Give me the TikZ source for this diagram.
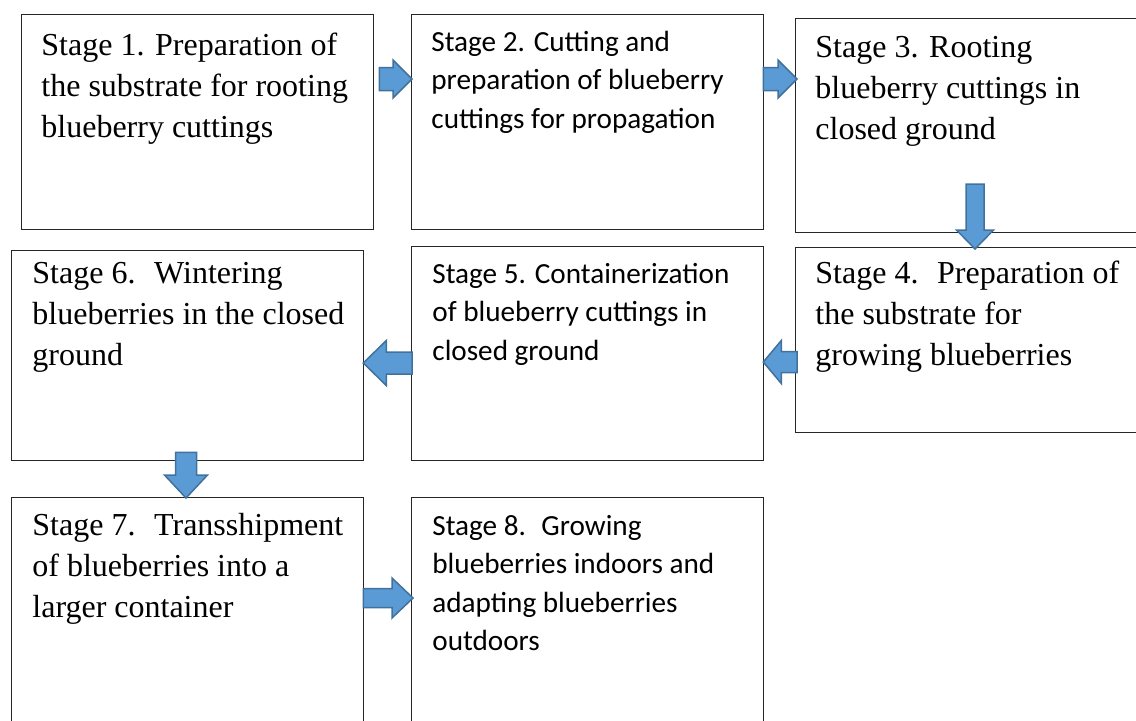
\documentclass[tikz,border=0pt]{standalone}
\usepackage{fontspec}
\setmainfont{Liberation Serif}
\newfontfamily\calibrifont{Carlito}
\usetikzlibrary{calc}

\definecolor{arrowfill}{HTML}{5B9BD5}
\definecolor{arrowline}{HTML}{41719C}

\begin{document}
\begin{tikzpicture}[x=0.5pt,y=-0.5pt,
	stagebox/.style={draw=black!85, line width=0.65pt, anchor=north west, inner sep=0pt, minimum width=176pt},
	serif/.style={anchor=base west, inner sep=0pt, align=left, font=\rmfamily\fontsize{16}{20.6}\selectfont},
	sans/.style={anchor=base west, inner sep=0pt, align=left, font=\calibrifont\fontsize{14.6}{19.25}\selectfont},
	flowarrow/.style n args={3}{draw=arrowline, fill=arrowfill, line width=0.75pt,
		to path={($(\tikztostart)!#1!90:(\tikztotarget)$)
			-- ($(\tikztotarget)!#3!(\tikztostart)!#1!90:(\tikztotarget)$)
			-- ($(\tikztotarget)!#3!(\tikztostart)!#2!90:(\tikztotarget)$)
			-- (\tikztotarget)
			-- ($(\tikztotarget)!#3!(\tikztostart)!#2!-90:(\tikztotarget)$)
			-- ($(\tikztotarget)!#3!(\tikztostart)!#1!-90:(\tikztotarget)$)
			-- ($(\tikztostart)!#1!-90:(\tikztotarget)$) -- cycle}}
	]
	\useasboundingbox (0,0) rectangle (1136,720);

	\node	(s1) at (21,14) [stagebox, minimum height=107.5pt] {};
	\node	(s2) at (411,14) [stagebox, minimum height=107.5pt] {};
	\node	(s3) at (795,18) [stagebox, minimum height=107pt] {};
	\node	(s4) at (795,247) [stagebox, minimum height=92.5pt] {};
	\node	(s5) at (411,246) [stagebox, minimum height=107pt] {};
	\node	(s6) at (11,250) [stagebox, minimum height=105pt] {};
	\node	(s7) at (11,497) [stagebox, minimum height=115pt] {};
	\node	(s8) at (411,497) [stagebox, minimum height=115pt] {};

	\node	(t1) at ([shift={(20,123.4)}]s1.north west) [serif] {Stage 1. Preparation of\\the substrate for rooting\\blueberry cuttings};
	\node	(t2) at ([shift={(20,114)}]s2.north west) [sans] {Stage 2. Cutting and\\preparation of blueberry\\cuttings for propagation};
	\node	(t3) at ([shift={(20,121.4)}]s3.north west) [serif] {Stage 3. Rooting\\blueberry cuttings in\\closed ground};
	\node	(t4) at ([shift={(20,118.4)}]s4.north west) [serif] {Stage 4.~ Preparation of\\the substrate for\\growing blueberries};
	\node	(t5) at ([shift={(21,114)}]s5.north west) [sans] {Stage 5. Containerization\\of blueberry cuttings in\\closed ground};
	\node	(t6) at ([shift={(21,115.4)}]s6.north west) [serif] {Stage 6.~ Wintering\\blueberries in the closed\\ground};
	\node	(t7) at ([shift={(21,120.4)}]s7.north west) [serif] {Stage 7.~ Transshipment\\of blueberries into a\\larger container};
	\node	(t8) at ([shift={(21,153.5)}]s8.north west) [sans] {Stage 8.~ Growing\\blueberries indoors and\\adapting blueberries\\outdoors};

	\coordinate	(a12) at ([shift={(5,65)}]s1.north east);
	\coordinate	(b12) at ([shift={(1,65)}]s2.north west);
	\coordinate	(a23) at ([shift={(-1,65)}]s2.north east);
	\coordinate	(b23) at ([shift={(2,61)}]s3.north west);
	\coordinate	(a34) at ([shift={(180,166)}]s3.north west);
	\coordinate	(b34) at ([shift={(180,2)}]s4.north west);
	\coordinate	(a45) at ([shift={(2,115)}]s4.north west);
	\coordinate	(b45) at ([shift={(-1,116)}]s5.north east);
	\coordinate	(a56) at ([shift={(1,117)}]s5.north west);
	\coordinate	(b56) at ([shift={(-1,113)}]s6.north east);
	\coordinate	(a67) at ([shift={(175,-9)}]s6.south west);
	\coordinate	(b67) at ([shift={(175,1)}]s7.north west);
	\coordinate	(a78) at ([shift={(-1,101)}]s7.north east);
	\coordinate	(b78) at ([shift={(2,101)}]s8.north west);

	\draw	(a12) edge[flowarrow={5.75pt}{9.5pt}{9.5pt}] (b12)
		(a23) edge[flowarrow={5.75pt}{9.5pt}{9.5pt}] (b23)
		(a34) edge[flowarrow={4.5pt}{9.25pt}{9.5pt}] (b34)
		(a45) edge[flowarrow={5.25pt}{10.75pt}{9pt}] (b45)
		(a56) edge[flowarrow={5.5pt}{11.25pt}{11.5pt}] (b56)
		(a67) edge[flowarrow={5.25pt}{10.75pt}{11.5pt}] (b67)
		(a78) edge[flowarrow={4.75pt}{10pt}{10.5pt}] (b78)
		;
\end{tikzpicture}
\end{document}
